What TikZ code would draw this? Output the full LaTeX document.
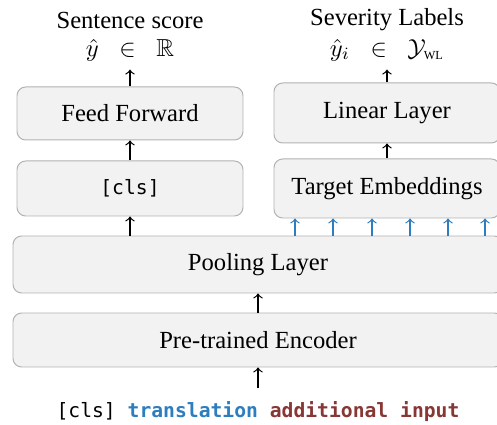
\documentclass[tikz,border=0pt]{standalone}
\usepackage{amsmath,amssymb}
\usepackage{fontspec}
\setmainfont{Liberation Serif}
\setmonofont{DejaVu Sans Mono}
\usetikzlibrary{positioning}
\definecolor{tblue}{RGB}{46,125,190}
\definecolor{tred}{RGB}{135,55,52}
\newcommand{\pu}{0.4065pt}
\begin{document}
\begin{tikzpicture}[x=\pu, y=-\pu,
        layer/.style={draw=black!30, fill=black!5, rounded corners=3.5pt, line width=0.4pt, align=center},
        up/.style={->, line width=0.5pt}]
    \useasboundingbox (0,0) rectangle (497,425);

    \node (sscore) at (130,20) {Sentence score};
    \node (yhat) at (130,50) {$\hat{y}\;\;\in\;\;\mathbb{R}$};
    \node (slabel) at (387,20) {Severity Labels};
    \node (yi) at (387,50) {$\hat{y}_i\;\;\in\;\;\mathcal{Y}_{\text{\fontsize{5}{6}\selectfont WL}}$};

    \node[layer, minimum width=226*\pu, minimum height=53*\pu] (ff) at (130,113.5) {Feed Forward};
    \node[layer, minimum width=226*\pu, minimum height=55*\pu] (cls) at (130,188.5) {\fontsize{8}{10}\selectfont\ttfamily [cls]};
    \node[layer, minimum width=226*\pu, minimum height=60*\pu] (lin) at (387,113) {Linear Layer};
    \node[layer, minimum width=226*\pu, minimum height=59*\pu] (temb) at (387,188.5) {Target Embeddings};
    \node[layer, minimum width=490*\pu, minimum height=57*\pu] (pool) at (258,264.5) {Pooling Layer};
    \node[layer, minimum width=490*\pu, minimum height=54*\pu] (enc) at (258,340) {Pre-trained Encoder};

    \node (inp) at (258,412) {\fontsize{8}{10}\selectfont\ttfamily [cls] \textbf{\color{tblue}translation} \textbf{\color{tred}additional input}};

    \draw[up] (ff) -- (yhat);
    \draw[up] (cls) -- (ff);
    \draw[up] (pool.north -| cls) -- (cls);
    \draw[up] (lin) -- (yi);
    \draw[up] (temb) -- (lin);
    \foreach \x in {295,333,372,410,448,485}
        \draw[up, tblue] (pool.north -| {(\x,0)}) -- (temb.south -| {(\x,0)});
    \draw[up] (enc) -- (pool);
    \draw[up, shorten <=2pt] (inp) -- (enc);
\end{tikzpicture}
\end{document}
